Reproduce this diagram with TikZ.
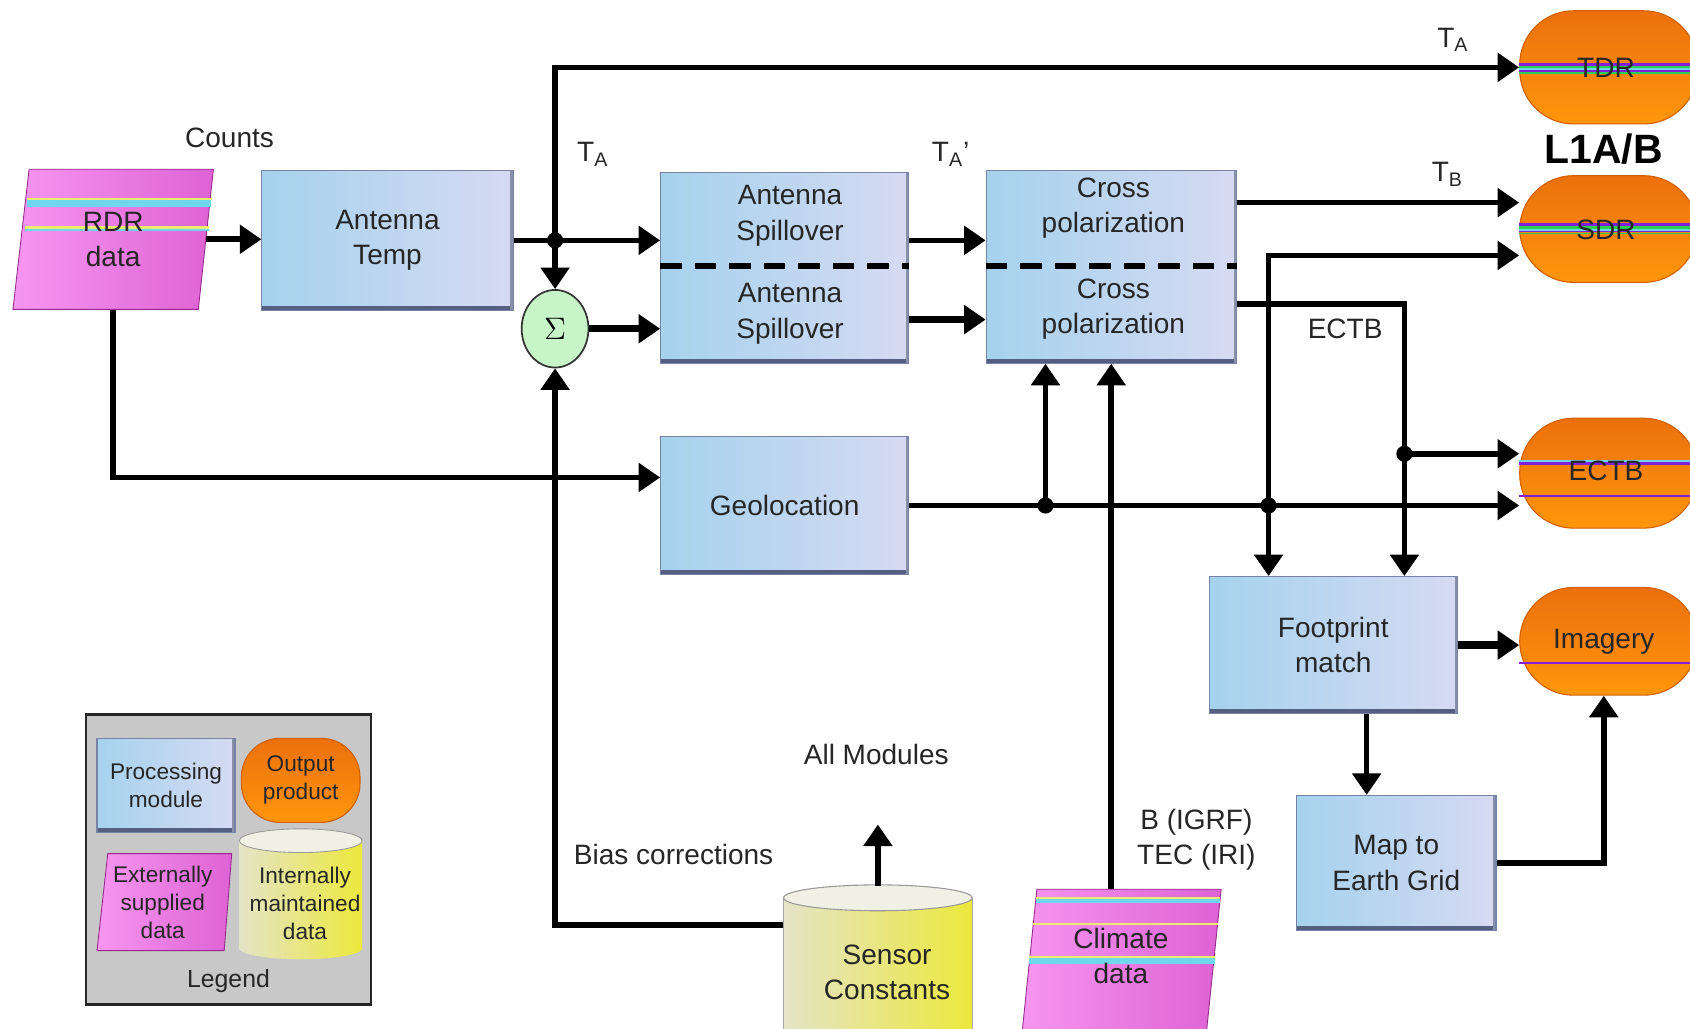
\documentclass[tikz,border=0pt]{standalone}
\usepackage{fontspec}
\setmainfont{Liberation Sans}
\usetikzlibrary{arrows.meta,shapes.geometric}
\definecolor{procL}{RGB}{165,210,238}
\definecolor{procM}{RGB}{192,198,232}
\definecolor{procR}{RGB}{214,218,242}
\definecolor{procB}{RGB}{120,130,165}
\definecolor{procD}{RGB}{85,95,130}
\definecolor{outT}{RGB}{236,112,12}
\definecolor{outB}{RGB}{255,150,12}
\definecolor{outD}{RGB}{210,95,0}
\definecolor{magL}{RGB}{246,150,240}
\definecolor{magR}{RGB}{222,98,212}
\definecolor{magD}{RGB}{150,40,140}
\definecolor{stC}{RGB}{110,215,235}
\definecolor{stY}{RGB}{235,235,110}
\definecolor{stP}{RGB}{130,30,220}
\definecolor{stG}{RGB}{40,210,80}
\definecolor{cylL}{RGB}{228,228,200}
\definecolor{cylM}{RGB}{242,242,95}
\definecolor{cylR}{RGB}{236,232,60}
\definecolor{cylT}{RGB}{240,240,228}
\definecolor{sigF}{RGB}{200,245,200}
\definecolor{legF}{RGB}{200,200,200}
\newcommand\mainfs{\fontsize{13}{16.5}\selectfont}
\newcommand\legfs{\fontsize{10.5}{13}\selectfont}
\begin{document}
\begin{tikzpicture}[x=0.5pt,y=-0.5pt,
  txt/.style={font=\mainfs, text=black!85, align=center, inner sep=0pt},
  proc/.style={rectangle, inner sep=0pt, align=center, font=\mainfs, text=black!85,
    left color=procL, middle color=procM, right color=procR, draw=procB, line width=0.5pt,
    path picture={\fill[procD] (path picture bounding box.south west) rectangle ([yshift=2pt]path picture bounding box.south east);
      \fill[procD!70] (path picture bounding box.south east) rectangle ([xshift=-1.2pt]path picture bounding box.north east);}},
  outp/.style={rectangle, rounded corners=25pt, inner sep=0pt, align=center, font=\mainfs, text=black!85,
    top color=outT, bottom color=outB, draw=outD, line width=0.5pt},
  mag/.style={left color=magL, right color=magR, draw=magD, line width=0.4pt},
  cyl/.style={left color=cylL, middle color=cylM, right color=cylR},
  ln/.style={line width=2.6pt},
  arr/.style={line width=2.6pt, -{Triangle[length=10pt,width=13pt]}},
  arrT/.style={line width=3.4pt, -{Triangle[length=10pt,width=13pt]}},
  dashln/.style={line width=3pt, dash pattern=on 10pt off 6pt},
  dot/.style={circle, fill=black, inner sep=0pt, minimum size=7.5pt}]

\clip (0,0) rectangle (1568,954);
\fill[white] (0,0) rectangle (1568,954);

% ---------- legend ----------
\node[draw=black!85, line width=1.1pt, fill=legF, minimum width=132pt, minimum height=134.5pt, inner sep=0pt] (leg) at (212,797.5) {};
\node[proc, font=\legfs, minimum width=64pt, minimum height=43.5pt] (lgp) at (154,728.5) {Processing\\module};
\node[outp, font=\legfs, rounded corners=18pt, minimum width=55pt, minimum height=39pt] (lgo) at (279,724) {Output\\product};
\shade[mag] (100,792) -- (215,792) -- (208,882) -- (90,882) -- cycle;
\node[txt, font=\legfs] (lge) at (151,837) {Externally\\supplied\\data};
\shade[cyl] (222,780) rectangle (336,880);
\shade[cyl] (279,880) ellipse [x radius=57, y radius=10];
\filldraw[fill=cylT, draw=gray!80, line width=0.4pt] (279,780) ellipse [x radius=57, y radius=11];
\node[txt, font=\legfs] (lgi) at (283,838) {Internally\\maintained\\data};
\node[txt, font=\fontsize{11.5}{14}\selectfont] (legT) at (212,910) {Legend};

% ---------- data shapes ----------
\shade[mag] (27,157) -- (198,157) -- (184,287) -- (12,287) -- cycle;
\fill[stY] (25,184) rectangle (197,186);
\fill[stC] (25,186) rectangle (196,192);
\fill[stY] (23,210) rectangle (194,212);
\fill[stC] (23,212) rectangle (194,214.5);
\node[txt, minimum width=86pt, minimum height=65pt] (rdr) at (105,222) {RDR\\data};

\shade[mag] (962,825) -- (1133,825) -- (1116,990) -- (945,990) -- cycle;
\fill[stY] (961,832) rectangle (1132,834);
\fill[stC] (961,834) rectangle (1132,838);
\fill[stY] (958,856) rectangle (1130,858.5);
\fill[stY] (955,887) rectangle (1127,889);
\fill[stC] (955,889) rectangle (1127,894);
\node[txt, minimum width=85pt, minimum height=62pt] (clim) at (1040,887) {Climate\\data};

\shade[cyl] (727,833) rectangle (902,975);
\draw[gray!70, line width=0.4pt] (727,833) -- (727,975) (902,833) -- (902,975);
\filldraw[fill=cylT, draw=gray!80, line width=0.5pt] (814.5,833) ellipse [x radius=87.5, y radius=12];
\node[minimum width=87.5pt, minimum height=66pt, inner sep=0pt] (sens) at (814.5,888) {};
\node[txt] (sensT) at (823,902) {Sensor\\Constants};

% ---------- processing modules ----------
\node[proc, minimum width=116.5pt, minimum height=65pt] (at) at (359.5,223) {Antenna\\Temp};
\node[proc, minimum width=115pt, minimum height=88.5pt] (asp) at (728,248.5) {};
\node[proc, minimum width=116pt, minimum height=89.5pt] (xpol) at (1031,247.5) {};
\node[proc, minimum width=115pt, minimum height=64pt] (geo) at (728,469) {Geolocation};
\node[proc, minimum width=115pt, minimum height=63.5pt] (fp) at (1237,598.5) {Footprint\\match};
\node[proc, minimum width=92.5pt, minimum height=62.5pt] (map) at (1295.5,800.5) {Map to\\Earth Grid};

\node[txt] (asp1) at (733,200) {Antenna\\Spillover};
\node[txt] (asp2) at (733,291) {Antenna\\Spillover};
\node[txt] (xp1) at (1033,193) {Cross\\polarization};
\node[txt] (xp2) at (1033,287) {Cross\\polarization};
\coordinate (yD) at (0,247);
\draw[dashln] (asp.west |- yD) -- (asp.east |- yD);
\draw[dashln] (xpol.west |- yD) -- (xpol.east |- yD);

\node[ellipse, draw=black!80, line width=0.8pt, fill=sigF, minimum width=31pt, minimum height=36pt, inner sep=0pt, font=\fontsize{15}{18}\selectfont] (sig) at (515,305) {$\Sigma$};

% ---------- output products ----------
\node[outp, minimum width=82.5pt, minimum height=52.5pt] (tdr) at (1492.5,62.5) {};
\node[outp, minimum width=82.5pt, minimum height=49.5pt] (sdr) at (1492.5,212.5) {};
\node[outp, minimum width=82.5pt, minimum height=51pt] (ectb) at (1492.5,439) {};
\node[outp, minimum width=82.5pt, minimum height=50pt] (img) at (1492.5,595) {};
% colour stripes
\fill[stP] (1409,58) rectangle (1580,61);
\fill[stG] (1409,61) rectangle (1580,63);
\fill[stC] (1409,63) rectangle (1580,65);
\fill[stP] (1409,65) rectangle (1580,66.5);
\fill[stG] (1409,67) rectangle (1580,68.5);
\fill[stP] (1409,207) rectangle (1580,210);
\fill[stG] (1409,210) rectangle (1580,212);
\fill[stC] (1409,212) rectangle (1580,214);
\fill[stP] (1409,214) rectangle (1580,215.5);
\fill[stG] (1409,216) rectangle (1580,217.5);
\fill[stC] (1409,427) rectangle (1580,429);
\fill[stP] (1409,429) rectangle (1580,431);
\fill[stP] (1409,459.5) rectangle (1580,461.5);
\fill[stP] (1409,614.5) rectangle (1580,616.5);
\node[txt] (tdrT) at (1490,63) {TDR};
\node[txt] (sdrT) at (1490,213) {SDR};
\node[txt] (ectbT) at (1490,437) {ECTB};
\node[txt] (imgT) at (1488,595) {Imagery};

% ---------- connectors ----------
\coordinate (j0) at (sig.north |- at.east);
\coordinate (j1) at (970,469);
\coordinate (j2) at (1177,469);
\coordinate (j3) at (1303,421);
\coordinate (yB) at (0,282);
\coordinate (yS2) at (0,237);
\coordinate (xFM) at (1268,0);
\coordinate (xIM) at (1488,0);
\coordinate (s1) at (817,765);

\draw[arr] (rdr.east) -- (rdr.east -| at.west);
\draw[ln] (at.east) -- (j0);
\draw[arr] (j0) -- (j0 -| asp.west);
\draw[arr] (j0) |- (tdr.west);
\draw[arr] (j0) -- (sig.north);
\draw[arrT] (sig.east) -- (sig.east -| asp.west);
\draw[arr] (asp.east |- j0) -- (xpol.west |- j0);
\draw[arrT] ([yshift=-24pt]asp.east) -- ([yshift=-24pt]asp.east -| xpol.west);
\draw[arr] ([yshift=29.75pt]xpol.east) -- ([yshift=29.75pt]xpol.east -| sdr.west);
\draw[arr] (xpol.east |- yB) -| (j3 |- fp.north);
\draw[arr] (j3) -- (j3 -| ectb.west);
\draw[arr] (rdr.south) |- ([yshift=13pt]geo.west);
\draw[arr] (geo.east) -- (geo.east -| ectb.west);
\draw[arr] (j1) -- (j1 |- xpol.south);
\draw[arr] (clim.north -| xpol.south) -- (xpol.south);
\draw[arr] (j2) |- (sdr.west |- yS2);
\draw[arr] (j2) -- (j2 |- fp.north);
\draw[arr] (sens.north) -- (sens.north |- s1);
\draw[arr] ([yshift=15pt]sens.west) -| (sig.south);
\draw[arrT] (fp.east) -- (fp.east -| img.west);
\draw[arr] (fp.south -| xFM) -- (map.north -| xFM);
\draw[arr] (map.east) -| (img.south -| xIM);

\node[dot] at (j0) {};
\node[dot] at (j1) {};
\node[dot] at (j2) {};
\node[dot] at (j3) {};

% ---------- labels ----------
\node[txt] (lCounts) at (213,128) {Counts};
\node[txt] (lTA1) at (550,143) {T\textsubscript{A}};
\node[txt] (lTA2) at (882,143) {T\textsubscript{A}'};
\node[txt] (lTA3) at (1348,37) {T\textsubscript{A}};
\node[txt] (lTB) at (1343,162) {T\textsubscript{B}};
\node[txt, font=\fontsize{19}{22}\selectfont\bfseries, text=black] (lL1) at (1488,138) {L1A/B};
\node[txt] (lECTB) at (1248,305) {ECTB};
\node[txt] (lAll) at (813,700) {All Modules};
\node[txt] (lBias) at (625,793) {Bias corrections};
\node[txt] (lB) at (1110,779) {B (IGRF)\\TEC (IRI)};
\end{tikzpicture}
\end{document}
